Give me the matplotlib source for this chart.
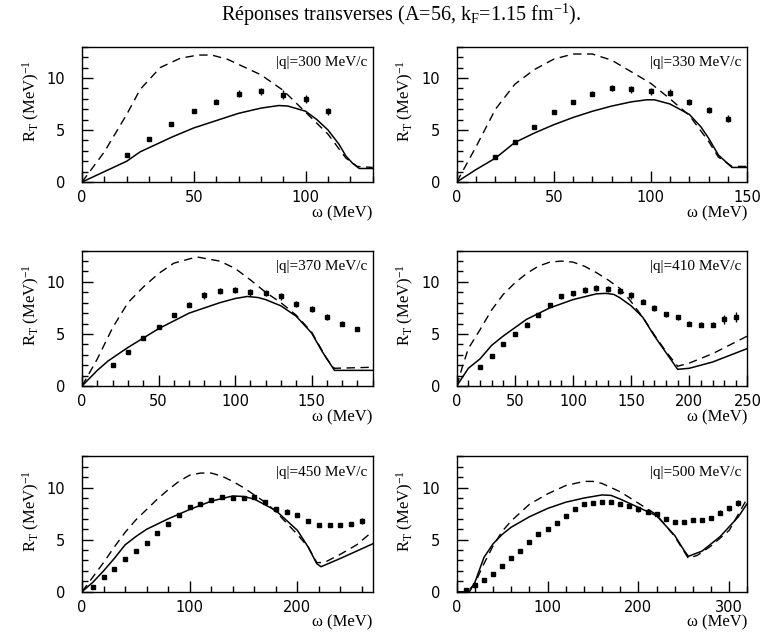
import matplotlib
matplotlib.use("Agg")
import matplotlib.pyplot as plt
from matplotlib.ticker import MultipleLocator

# |q| values (MeV/c) and x-axis limits
q_values = [300, 330, 370, 410, 450, 500]
x_max = [130, 150, 190, 250, 270, 320]
x_minor = [10, 10, 10, 10, 20, 20]
x_major = [50, 50, 50, 50, 100, 100]

# experimental points (omega, R_T)
exp_w = [
    [20, 30, 40, 50, 60, 70, 80, 90, 100, 110],
    [20, 30, 40, 50, 60, 70, 80, 90, 100, 110, 120, 130, 140],
    [20, 30, 40, 50, 60, 70, 80, 90, 100, 110, 120, 130, 140, 150, 160, 170, 180],
    [20, 30, 40, 50, 60, 70, 80, 90, 100, 110, 120, 130, 140, 150, 160, 170, 180,
     190, 200, 210, 220, 230, 240],
    [10, 20, 30, 40, 50, 60, 70, 80, 90, 100, 110, 120, 130, 140, 150, 160, 170,
     180, 190, 200, 210, 220, 230, 240, 250, 260],
    [10, 20, 30, 40, 50, 60, 70, 80, 90, 100, 110, 120, 130, 140, 150, 160, 170,
     180, 190, 200, 210, 220, 230, 240, 250, 260, 270, 280, 290, 300, 310],
]
exp_r = [
    [2.6, 4.1, 5.6, 6.8, 7.7, 8.5, 8.7, 8.4, 8.0, 6.8],
    [2.4, 3.8, 5.3, 6.7, 7.7, 8.5, 9.0, 8.9, 8.7, 8.6, 7.7, 6.9, 6.1],
    [2.0, 3.3, 4.6, 5.7, 6.8, 7.8, 8.7, 9.1, 9.2, 9.0, 8.9, 8.6, 7.9, 7.4, 6.6,
     6.0, 5.5],
    [1.8, 2.9, 4.0, 5.0, 5.9, 6.8, 7.8, 8.6, 8.9, 9.2, 9.4, 9.3, 9.1, 8.7, 8.1,
     7.5, 6.9, 6.6, 6.0, 5.9, 5.9, 6.4, 6.6],
    [0.5, 1.4, 2.2, 3.1, 3.9, 4.7, 5.6, 6.5, 7.4, 8.1, 8.4, 8.8, 9.1, 9.0, 9.0,
     9.1, 8.6, 7.9, 7.7, 7.35, 6.8, 6.4, 6.4, 6.4, 6.5, 6.8],
    [0.2, 0.6, 1.1, 1.7, 2.5, 3.2, 3.9, 4.8, 5.5, 6.0, 6.6, 7.3, 7.9, 8.4, 8.5,
     8.6, 8.6, 8.4, 8.2, 7.9, 7.7, 7.5, 7.0, 6.7, 6.7, 6.9, 6.9, 7.1, 7.6, 8.0,
     8.5],
]
exp_err = [
    [0.15, 0.15, 0.15, 0.2, 0.25, 0.3, 0.35, 0.4, 0.4, 0.35],
    [0.15, 0.15, 0.15, 0.2, 0.2, 0.25, 0.3, 0.3, 0.3, 0.3, 0.3, 0.3, 0.3],
    [0.15, 0.15, 0.15, 0.2, 0.2, 0.25, 0.3, 0.3, 0.3, 0.35, 0.3, 0.3, 0.3, 0.3,
     0.3, 0.25, 0.2],
    [0.15, 0.15, 0.15, 0.15, 0.2, 0.2, 0.2, 0.25, 0.25, 0.3, 0.3, 0.3, 0.3, 0.3,
     0.25, 0.25, 0.25, 0.25, 0.25, 0.25, 0.25, 0.4, 0.5],
    [0.1, 0.1, 0.1, 0.1, 0.1, 0.1, 0.1, 0.1, 0.1, 0.15, 0.15, 0.15, 0.2, 0.2, 0.2,
     0.2, 0.2, 0.2, 0.2, 0.2, 0.2, 0.2, 0.2, 0.2, 0.2, 0.25],
    [0.1, 0.1, 0.1, 0.1, 0.1, 0.1, 0.1, 0.1, 0.1, 0.1, 0.1, 0.1, 0.15, 0.15, 0.15,
     0.15, 0.15, 0.15, 0.15, 0.2, 0.2, 0.2, 0.2, 0.2, 0.2, 0.2, 0.2, 0.2, 0.25,
     0.25, 0.3],
]

# full calculation (solid)
solid_w = [
    [0, 10, 20, 26, 30, 40, 50, 60, 70, 80, 88, 92, 100, 105, 110, 115, 118, 121, 124, 130],
    [0, 10, 20, 30, 40, 50, 60, 70, 80, 90, 98, 102, 110, 120, 126, 130, 135, 142, 150],
    [0, 10, 17, 30, 50, 70, 90, 100, 108, 115, 120, 130, 140, 150, 157, 165, 190],
    [0, 10, 20, 30, 40, 50, 60, 80, 100, 120, 128, 135, 140, 150, 160, 170, 180, 190,
     200, 220, 250],
    [0, 10, 20, 30, 40, 50, 60, 80, 100, 120, 140, 150, 160, 180, 200, 210, 218, 222,
     240, 270],
    [0, 14, 20, 30, 40, 50, 60, 80, 100, 120, 140, 160, 170, 180, 200, 220, 240, 250,
     255, 270, 290, 310, 320],
]
solid_r = [
    [0, 1.0, 2.0, 2.9, 3.3, 4.3, 5.2, 5.9, 6.6, 7.1, 7.35, 7.3, 6.8, 6.0, 5.0, 3.6,
     2.5, 1.8, 1.3, 1.3],
    [0, 1.2, 2.3, 3.8, 4.7, 5.5, 6.2, 6.8, 7.3, 7.7, 7.9, 7.9, 7.5, 6.5, 5.3, 4.2,
     2.6, 1.4, 1.4],
    [0, 1.5, 2.4, 3.7, 5.5, 7.0, 8.0, 8.4, 8.6, 8.5, 8.3, 7.7, 6.7, 5.1, 3.3, 1.5, 1.5],
    [0, 1.7, 2.6, 3.9, 4.8, 5.6, 6.4, 7.5, 8.3, 8.85, 8.9, 8.8, 8.5, 7.7, 6.6, 4.8,
     3.2, 1.6, 1.7, 2.3, 3.6],
    [0, 0.9, 2.0, 3.2, 4.5, 5.3, 6.0, 7.0, 7.9, 8.7, 9.2, 9.15, 8.9, 7.8, 5.9, 4.3,
     2.7, 2.4, 3.2, 4.6],
    [0, 0, 0.9, 3.3, 4.6, 5.5, 6.2, 7.2, 8.0, 8.6, 9.0, 9.3, 9.25, 8.9, 8.1, 7.3,
     5.4, 4.0, 3.4, 3.9, 5.3, 7.2, 8.5],
]

# dashed calculation
dash_w = [
    [0, 10, 20, 26, 35, 44, 52, 58, 65, 80, 90, 100, 110, 118, 123, 130],
    [0, 10, 20, 30, 40, 50, 60, 70, 80, 90, 100, 110, 120, 130, 135, 142, 150],
    [0, 10, 20, 30, 40, 50, 60, 75, 90, 100, 110, 120, 130, 140, 150, 160, 165, 190],
    [0, 5, 10, 20, 30, 40, 50, 60, 70, 80, 90, 100, 110, 120, 130, 140, 150, 160,
     170, 180, 190, 200, 220, 250],
    [0, 10, 20, 30, 40, 50, 60, 70, 80, 90, 100, 110, 120, 130, 140, 150, 160, 170,
     180, 190, 200, 210, 218, 225, 240, 255, 270],
    [0, 12, 20, 30, 40, 50, 60, 80, 100, 120, 140, 150, 160, 180, 200, 220, 240, 255,
     265, 280, 300, 320],
]
dash_r = [
    [0, 2.9, 6.5, 8.9, 11.0, 11.9, 12.2, 12.2, 11.8, 10.3, 8.8, 6.7, 4.6, 2.3, 1.5, 1.4],
    [0, 3.4, 7.0, 9.4, 10.8, 11.8, 12.3, 12.3, 11.7, 10.6, 9.5, 8.0, 6.4, 3.9, 2.4,
     1.5, 1.5],
    [0, 2.6, 5.6, 8.0, 9.5, 10.8, 11.8, 12.4, 12.0, 11.3, 10.2, 9.0, 8.0, 6.8, 5.2,
     2.6, 1.7, 1.8],
    [0, 1.9, 3.6, 5.4, 7.3, 8.8, 9.9, 10.8, 11.5, 11.9, 12.0, 11.9, 11.5, 10.9, 10.2,
     9.4, 8.1, 6.6, 4.9, 3.3, 1.9, 2.2, 3.1, 4.8],
    [0, 1.4, 2.8, 4.3, 5.7, 6.9, 7.9, 8.9, 9.8, 10.6, 11.2, 11.4, 11.4, 11.1, 10.6,
     10.0, 9.3, 8.6, 7.7, 6.6, 5.5, 4.3, 2.8, 2.8, 3.6, 4.5, 5.8],
    [0, 0, 0.8, 2.7, 4.4, 5.8, 6.8, 8.4, 9.4, 10.2, 10.6, 10.6, 10.4, 9.6, 8.5, 7.4,
     5.3, 3.2, 3.5, 4.4, 5.9, 9.0],
]

serif = ["Liberation Serif", "DejaVu Serif"]
sans = ["DejaVu Sans"]
plt.rcParams["mathtext.fontset"] = "custom"
plt.rcParams["mathtext.rm"] = "Liberation Serif"
plt.rcParams["mathtext.it"] = "Liberation Serif:italic"

fig = plt.figure(figsize=(7.63, 6.34), dpi=100)

col_left = [0.1075, 0.5986]
row_bottom = [0.7129, 0.3912, 0.0667]
ax_w = 0.381
ax_h = 0.2134

for i, q in enumerate(q_values):
    r, c = divmod(i, 2)
    ax = fig.add_axes([col_left[c], row_bottom[r], ax_w, ax_h])
    ax.plot(dash_w[i], dash_r[i], color="black", lw=1.0, ls=(0, (6, 4)))
    ax.plot(solid_w[i], solid_r[i], color="black", lw=1.1)
    ax.errorbar(exp_w[i], exp_r[i], yerr=exp_err[i], fmt="s", color="black",
                ms=3.2, elinewidth=1.0, capsize=0)
    ax.set_xlim(0, x_max[i])
    ax.set_ylim(0, 13)
    ax.xaxis.set_major_locator(MultipleLocator(x_major[i]))
    ax.xaxis.set_minor_locator(MultipleLocator(x_minor[i]))
    ax.yaxis.set_major_locator(MultipleLocator(5))
    ax.yaxis.set_minor_locator(MultipleLocator(1))
    ax.tick_params(which="both", direction="in", top=False, right=False,
                   width=1.0, labelsize=10.5)
    ax.tick_params(which="major", length=8)
    ax.tick_params(which="minor", length=4)
    ax.tick_params(axis="y", which="major", pad=12)
    ax.tick_params(axis="x", which="major", pad=6)
    for lab in ax.get_xticklabels() + ax.get_yticklabels():
        lab.set_family(sans)
    for s in ax.spines.values():
        s.set_linewidth(1.0)
    ax.text(0.98, 0.93, f"|q|={q} MeV/c", transform=ax.transAxes, ha="right",
            va="top", fontsize=11, family=serif)
    ax.text(1.0, -0.23, "ω (MeV)", transform=ax.transAxes, ha="right", va="center",
            fontsize=12, family=serif)
    ax.text(-0.175, 0.9, r"R$_\mathrm{T}$ (MeV)$^\mathrm{-1}$", transform=ax.transAxes,
            rotation=90, ha="center", va="top", fontsize=12, family=serif)

fig.text(0.525, 0.976, r"Réponses transverses (A=56, k$_\mathrm{F}$=1.15 fm$^\mathrm{-1}$).",
         ha="center", va="center", fontsize=14.5, family=serif)

fig.savefig("out.png", dpi=100)
